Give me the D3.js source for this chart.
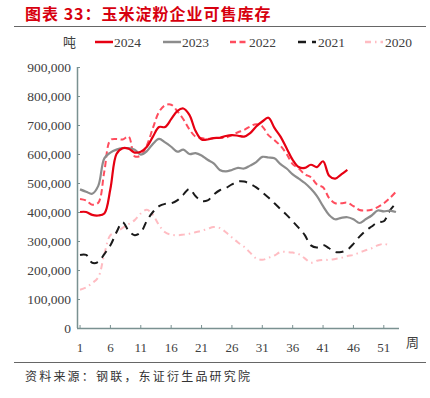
<!DOCTYPE html>
<html>
<head>
<meta charset="utf-8">
<script src="https://cdn.jsdelivr.net/npm/d3@7"></script>
<style>
  body { margin: 0; background: #fff; }
  svg { display: block; }
</style>
</head>
<body>
<div id="chart"></div>
<script>
// weekly sellable inventory, tonnes
const weeks = d3.range(1, 54);
const tickWeeks = [1, 6, 11, 16, 21, 26, 31, 36, 41, 46, 51];
const yTicks = [0, 100000, 200000, 300000, 400000, 500000, 600000, 700000, 800000, 900000];

const s2024 = [400, 400, 390, 388, 395, 480, 600, 620, 618, 605, 608, 625, 660, 693, 693, 720, 748, 757, 735, 680,
  650, 650, 655, 656, 662, 665, 663, 660, 672, 695, 712, 725, 690, 660, 620, 580, 555, 552, 563, 555,
  575, 525, 515, 530, 545];
const s2023 = [478, 470, 463, 490, 585, 605, 615, 620, 620, 615, 598, 610, 635, 652, 640, 625, 608, 615, 600, 603,
  595, 580, 568, 545, 540, 545, 552, 550, 560, 572, 590, 588, 585, 565, 550, 530, 515, 500, 480, 455,
  420, 390, 375, 380, 382, 375, 362, 375, 388, 405, 402, 405, 400];
const s2022 = [445, 440, 425, 432, 540, 648, 652, 650, 660, 592, 595, 630, 690, 745, 768, 770, 748, 720, 685, 660,
  655, 652, 655, 655, 657, 665, 675, 683, 695, 703, 695, 665, 648, 628, 600, 565, 550, 530, 520, 495,
  485, 448, 430, 430, 432, 420, 407, 405, 408, 417, 430, 448, 470];
const s2021 = [252, 252, 225, 228, 255, 285, 330, 365, 335, 320, 330, 370, 400, 420, 428, 430, 440, 460, 480, 455,
  438, 440, 460, 475, 483, 495, 505, 505, 497, 485, 468, 450, 430, 410, 390, 368, 345, 320, 285, 278,
  286, 275, 262, 262, 270, 290, 315, 335, 350, 365, 368, 405, 430];
const s2020 = [132, 140, 155, 175, 255, 320, 330, 345, 358, 372, 395, 408, 390, 355, 330, 322, 320, 322, 325, 330,
  335, 342, 348, 345, 330, 312, 295, 280, 260, 240, 235, 242, 250, 262, 262, 260, 255, 240, 225, 232,
  235, 235, 238, 242, 248, 252, 260, 268, 275, 285, 290, 285];

const series = [
  {name: "2024", values: s2024, color: "#e60012", width: 2.2, dash: null},
  {name: "2023", values: s2023, color: "#8c8c8c", width: 2.2, dash: null},
  {name: "2022", values: s2022, color: "#ff4d5e", width: 2, dash: "6,3.5"},
  {name: "2021", values: s2021, color: "#1a1a1a", width: 2, dash: "8,6"},
  {name: "2020", values: s2020, color: "#ffbcc2", width: 2, dash: "6,4,1.5,4"}
];

const W = 430, H = 398;
const svg = d3.select("#chart").append("svg").attr("width", W).attr("height", H);

const x = d3.scaleBand().domain(weeks).range([77, 399]);
const y = d3.scaleLinear().domain([0, 900000]).range([328, 67]);
const serif = "'Liberation Serif', 'Times New Roman', serif";
const cjk = "'Noto Sans CJK SC', sans-serif";

// title + rules
svg.append("text")
    .attr("x", 25).attr("y", 20)
    .attr("font-family", cjk).attr("font-weight", "bold")
    .attr("font-size", 16).attr("letter-spacing", 1)
    .attr("fill", "#d7000f")
    .text("图表 33：玉米淀粉企业可售库存");
svg.append("line").attr("x1", 14).attr("x2", 426).attr("y1", 26.5).attr("y2", 26.5)
    .attr("stroke", "#666").attr("stroke-width", 1);
svg.append("line").attr("x1", 14).attr("x2", 426).attr("y1", 362.5).attr("y2", 362.5)
    .attr("stroke", "#666").attr("stroke-width", 1);
svg.append("text")
    .attr("x", 25).attr("y", 381)
    .attr("font-family", cjk).attr("font-size", 12).attr("letter-spacing", 2.2)
    .attr("fill", "#333")
    .text("资料来源：钢联，东证衍生品研究院");

// axes
const axisColor = "#7a9191";
const yAxis = svg.append("g")
    .attr("transform", "translate(77,0)")
    .call(d3.axisRight(y).tickValues(yTicks).tickSize(3).tickFormat(d3.format(",")));
yAxis.select(".domain").attr("stroke", axisColor).attr("stroke-width", 1.5).attr("d", "M0.5,67V328");
yAxis.selectAll(".tick line").attr("stroke", axisColor);
yAxis.selectAll(".tick text")
    .attr("x", -6).attr("text-anchor", "end")
    .attr("font-family", serif).attr("font-size", 13.5).attr("fill", "#404040");

const xAxis = svg.append("g")
    .attr("transform", "translate(0,328)")
    .call(d3.axisTop(x).tickValues(tickWeeks).tickSize(3));
xAxis.select(".domain").attr("stroke", axisColor).attr("stroke-width", 1.5).attr("d", "M77,0.5H399");
xAxis.selectAll(".tick line").attr("stroke", axisColor);
xAxis.selectAll(".tick text")
    .attr("y", 24).attr("dy", 0)
    .attr("font-family", serif).attr("font-size", 13).attr("fill", "#404040");

svg.append("text").attr("x", 406).attr("y", 347)
    .attr("font-family", cjk).attr("font-size", 13).attr("fill", "#404040").text("周");

// lines, drawn oldest first so 2024 sits on top
const line = d3.line()
    .x((d, i) => x(i + 1) + x.bandwidth() / 2)
    .y(d => y(d * 1000))
    .curve(d3.curveCatmullRom.alpha(0.5));

svg.append("g").selectAll("path")
  .data(series.slice().reverse())
  .join("path")
    .attr("fill", "none")
    .attr("stroke", d => d.color)
    .attr("stroke-width", d => d.width)
    .attr("stroke-dasharray", d => d.dash)
    .attr("d", d => line(d.values));

// legend
svg.append("text").attr("x", 63).attr("y", 47)
    .attr("font-family", cjk).attr("font-size", 13).attr("fill", "#404040").text("吨");
const legendX = [95, 163, 230, 298, 365];
const lg = svg.append("g").selectAll("g")
  .data(series)
  .join("g")
    .attr("transform", (d, i) => `translate(${legendX[i]},42)`);
lg.append("line")
    .attr("x1", 0).attr("x2", 18)
    .attr("stroke", d => d.color)
    .attr("stroke-width", d => d.width + 0.3)
    .attr("stroke-dasharray", d => d.dash);
lg.append("text")
    .attr("x", (d, i) => i === 3 || i === 4 ? 20 : 19).attr("y", 5)
    .attr("font-family", serif).attr("font-size", 13.5).attr("fill", "#404040")
    .text(d => d.name);
</script>
</body>
</html>
